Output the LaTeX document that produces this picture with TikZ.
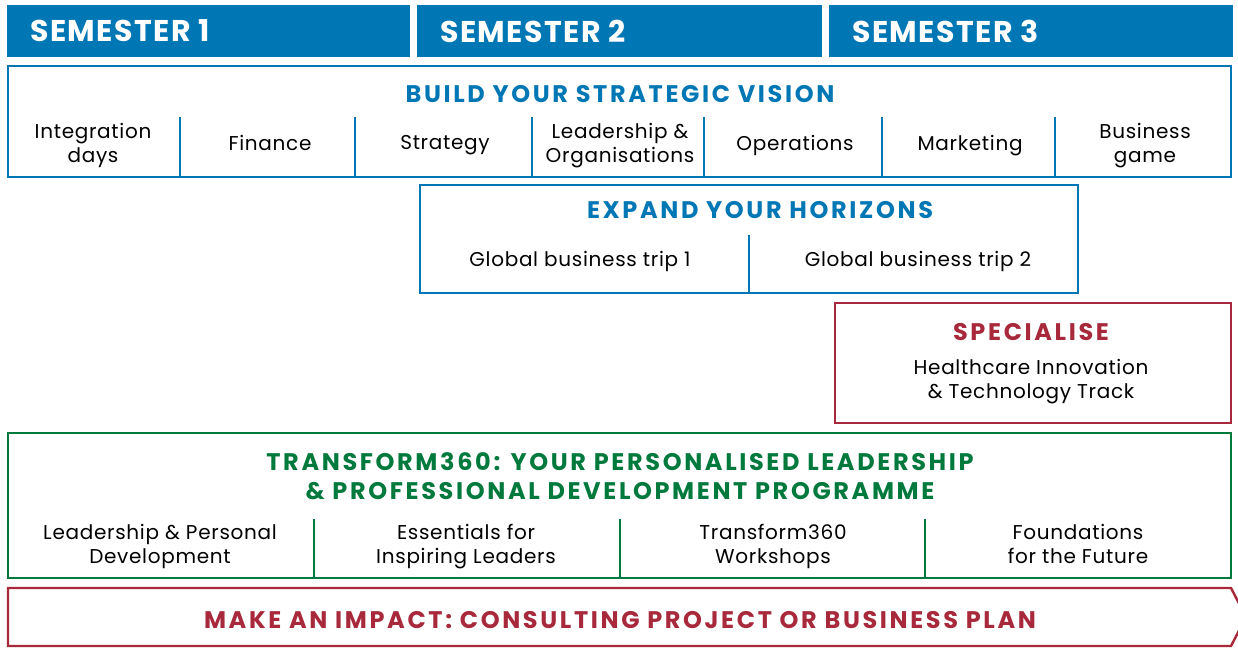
\documentclass[tikz,border=0pt]{standalone}
\usepackage{fontspec}
\setmainfont{Poppins}
\usetikzlibrary{positioning}
\definecolor{semblue}{HTML}{0077B5}
\definecolor{impred}{HTML}{A8283C}
\definecolor{tgreen}{HTML}{00793D}
\tikzset{
  sembar/.style={rectangle, fill=semblue, minimum height=52pt, inner sep=0pt, outer sep=0pt, anchor=north west},
  semtext/.style={text=white, font=\fontsize{30}{32}\selectfont\bfseries\addfontfeature{LetterSpace=5}, anchor=west, inner sep=0pt},
  panel/.style={rectangle, draw=#1, line width=2.4pt, inner sep=0pt, outer sep=0pt, anchor=north west},
  paneltitle/.style={text=#1, font=\fontsize{24}{29}\selectfont\bfseries\addfontfeature{LetterSpace=11}, align=center, inner sep=0pt},
  item/.style={font=\fontsize{20}{24}\selectfont\addfontfeature{LetterSpace=3.5}, align=center, inner sep=0pt, text depth=5pt},
  divider/.style={draw=#1, line width=2.4pt}
}
\begin{document}
\begin{tikzpicture}[x=1pt, y=-1pt]
\useasboundingbox[fill=white] (0,0) rectangle (1238,648);

% semesters
\node[sembar, minimum width=403pt] (sem1) at (7,5) {};
\node[sembar, minimum width=405pt] (sem2) at (417,5) {};
\node[sembar, minimum width=404pt] (sem3) at (829,5) {};
\foreach \s/\n in {sem1/1, sem2/2, sem3/3}
  \node[semtext] (\s t) at ([xshift=23pt]\s.west) {SEMESTER \n};

% build your strategic vision
\node[panel=semblue, minimum width=1223pt, minimum height=111pt] (build) at (8,66) {};
\node[paneltitle=semblue] (buildt) at (620,94) {BUILD YOUR STRATEGIC VISION};
\foreach \x in {180,355,532,704,882,1055}
  \draw[divider=semblue] (\x,117) -- (\x,0 |- build.south);
\foreach \x/\t [count=\i] in {93/{Integration\\days}, 270/Finance, 445/Strategy,
    620/{Leadership \&\\Organisations}, 795/Operations, 970/Marketing, 1145/{Business\\game}}
  \node[item] (b\i) at (\x,145) {\t};

% expand your horizons
\node[panel=semblue, minimum width=658pt, minimum height=108pt] (expand) at (420,185) {};
\node[paneltitle=semblue] (expandt) at (760,210) {EXPAND YOUR HORIZONS};
\draw[divider=semblue] (749,235) -- (749,0 |- expand.south);
\node[item] (e1) at (580,261) {Global business trip 1};
\node[item] (e2) at (918,261) {Global business trip 2};

% specialise
\node[panel=impred, minimum width=396pt, minimum height=120pt] (spec) at (835,303) {};
\node[paneltitle=impred] (spect) at (1031,332) {SPECIALISE};
\node[item] (s1) at (1031,381) {Healthcare Innovation\\\& Technology Track};

% transform360
\node[panel=tgreen, minimum width=1223pt, minimum height=145pt] (trans) at (8,433) {};
\node[paneltitle=tgreen] (transt) at (620,476) {TRANSFORM360: YOUR PERSONALISED LEADERSHIP\\\& PROFESSIONAL DEVELOPMENT PROGRAMME};
\foreach \x in {314,620,925}
  \draw[divider=tgreen] (\x,519) -- (\x,0 |- trans.south);
\foreach \x/\t [count=\i] in {160/{Leadership \& Personal\\Development}, 466/{Essentials for\\Inspiring Leaders},
    773/{Transform360\\Workshops}, 1078/{Foundations\\for the Future}}
  \node[item] (t\i) at (\x,546) {\t};

% make an impact
\draw[impred, line width=2.4pt] (8,588) -- (1231,588) -- (1246,617) -- (1231,646) -- (8,646) -- cycle;
\node[paneltitle=impred] (impact) at (620,620) {MAKE AN IMPACT: CONSULTING PROJECT OR BUSINESS PLAN};
\end{tikzpicture}
\end{document}
